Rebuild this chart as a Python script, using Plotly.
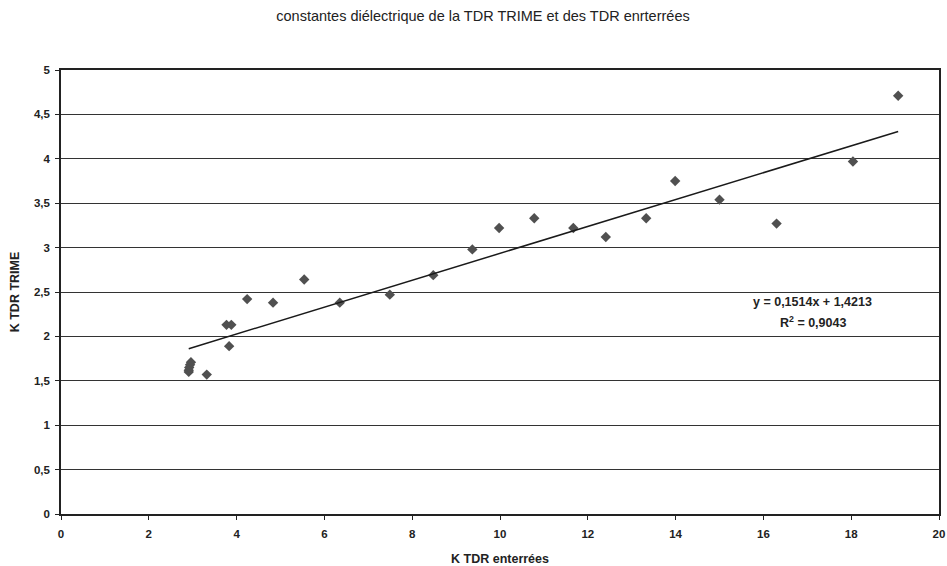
import plotly.graph_objects as go

# Data
k_tdr_enterrees = [2.91, 2.91, 2.92, 2.94, 2.96, 3.32, 3.77, 3.88, 3.83, 4.24, 4.83, 5.54,
                   6.35, 7.49, 8.48, 9.37, 9.98, 10.78, 11.67, 12.41, 13.33, 13.99,
                   15.0, 16.3, 18.04, 19.07]
k_tdr_trime = [1.60, 1.62, 1.65, 1.68, 1.71, 1.57, 2.13, 2.13, 1.89, 2.42, 2.38, 2.64,
               2.38, 2.47, 2.69, 2.98, 3.22, 3.33, 3.22, 3.12, 3.33, 3.75,
               3.54, 3.27, 3.97, 4.71]
slope = 0.1514
intercept = 1.4213
r2 = 0.9043
x_ticks = [0, 2, 4, 6, 8, 10, 12, 14, 16, 18, 20]
y_ticks = [0, 0.5, 1, 1.5, 2, 2.5, 3, 3.5, 4, 4.5, 5]

x_min, x_max = min(k_tdr_enterrees), max(k_tdr_enterrees)
trend_x = [x_min, x_max]
trend_y = [slope * v + intercept for v in trend_x]

fig = go.Figure()
fig.add_trace(go.Scatter(
    x=k_tdr_enterrees, y=k_tdr_trime, mode="markers",
    marker=dict(symbol="diamond", size=8, color="#505050"),
    showlegend=False,
))
fig.add_trace(go.Scatter(
    x=trend_x, y=trend_y, mode="lines",
    line=dict(color="#1a1a1a", width=1.5),
    showlegend=False,
))

font_family = "Liberation Sans, Arial, sans-serif"

fig.add_annotation(
    x=17.12, y=2.39, xref="x", yref="y",
    text=f"<b>y = {str(slope).replace('.', ',')}x + {str(intercept).replace('.', ',')}</b>",
    showarrow=False, font=dict(family=font_family, size=12.5, color="#222"),
)
fig.add_annotation(
    x=17.12, y=2.16, xref="x", yref="y",
    text=f"<b>R<sup>2</sup> = {str(r2).replace('.', ',')}</b>",
    showarrow=False, font=dict(family=font_family, size=12.5, color="#222"),
)

fig.update_layout(
    width=947, height=566,
    margin=dict(l=61, r=2, t=70, b=52),
    paper_bgcolor="white", plot_bgcolor="white",
    separators=", ",
    font=dict(family=font_family, color="#222"),
    title=dict(
        text="constantes diélectrique de la TDR TRIME et des TDR enrterrées",
        x=483 / 947, xref="container", xanchor="center",
        y=1 - 16 / 566, yref="container", yanchor="middle",
        font=dict(family=font_family, size=14.5, color="#222"),
    ),
)
fig.update_xaxes(
    range=[0, 20], tickvals=x_ticks, ticks="outside", ticklen=4, tickcolor="#222",
    showgrid=False, zeroline=False,
    showline=True, linecolor="#222", linewidth=1.5, mirror=True,
    ticklabelstandoff=4, ticklabeloverflow="allow",
    tickfont=dict(family=font_family, size=11.5, color="#222", weight="bold"),
    title=dict(text="<b>K TDR enterrées</b>", standoff=16,
               font=dict(family=font_family, size=12.5, color="#222")),
)
fig.update_yaxes(
    range=[0, 5], tickvals=y_ticks, ticks="outside", ticklen=4, tickcolor="#222",
    showgrid=True, gridcolor="#333", gridwidth=1, zeroline=False,
    showline=True, linecolor="#222", linewidth=1.5, mirror=True,
    ticklabelstandoff=3,
    tickfont=dict(family=font_family, size=11.5, color="#222", weight="bold"),
    tickformat=".1~f",
    title=dict(text="<b>K TDR TRIME</b>", standoff=12,
               font=dict(family=font_family, size=12.5, color="#222")),
)

fig.write_html(
    "out.html",
    config={"displayModeBar": False},
    post_script="document.body.style.margin='0';document.body.style.overflow='hidden';",
)
